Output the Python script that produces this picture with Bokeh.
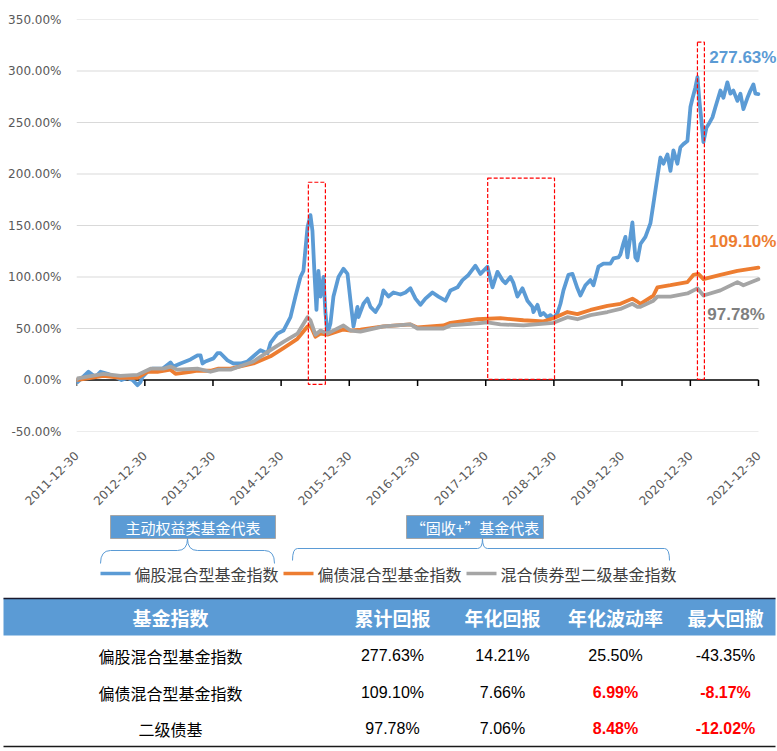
import math
import numpy as np
import pandas as pd
from bokeh.plotting import figure
from bokeh.layouts import column
from bokeh.models import (Range1d, FixedTicker, DatetimeTickFormatter,
                          PrintfTickFormatter, Label)
from bokeh.embed import file_html
from bokeh.resources import INLINE
from bokeh.core.properties import value

# ---------------- data ----------------
START = "2011-12-30"
tick_labels = ["2011-12-30", "2012-12-30", "2013-12-30", "2014-12-30", "2015-12-30",
               "2016-12-30", "2017-12-30", "2018-12-30", "2019-12-30", "2020-12-30",
               "2021-12-30"]
y_ticks = [-50, 0, 50, 100, 150, 200, 250, 300, 350]

# (years since 2011-12-30, cumulative return %)
blue_pts = [(0, 0), (0.015, -2), (0.176, 8), (0.279, 3), (0.352, 8), (0.455, 6), (0.572, 3),
            (0.660, 0), (0.748, 2), (0.821, 0), (0.894, -5), (0.938, -2), (0.968, 3), (1.041, 8),
            (1.114, 11), (1.261, 11), (1.378, 17), (1.422, 13), (1.525, 16), (1.672, 20),
            (1.774, 24), (1.818, 24), (1.848, 16), (1.891, 18), (2.009, 21), (2.067, 26),
            (2.111, 26), (2.214, 19), (2.302, 16), (2.405, 16), (2.507, 18), (2.595, 23),
            (2.698, 29), (2.801, 26), (2.845, 36), (2.947, 45), (3.035, 48), (3.138, 61),
            (3.211, 81), (3.284, 100), (3.328, 106), (3.387, 148), (3.431, 160), (3.460, 145),
            (3.490, 103), (3.519, 68), (3.548, 106), (3.578, 81), (3.622, 100), (3.651, 65),
            (3.680, 45), (3.724, 55), (3.768, 81), (3.842, 100), (3.915, 108), (3.974, 103),
            (4.018, 77), (4.062, 52), (4.120, 71), (4.135, 61), (4.208, 74), (4.267, 79),
            (4.311, 71), (4.384, 66), (4.457, 74), (4.501, 87), (4.575, 81), (4.648, 85),
            (4.751, 83), (4.824, 85), (4.897, 89), (4.971, 79), (5.044, 73), (5.117, 79),
            (5.220, 85), (5.308, 81), (5.411, 77), (5.484, 87), (5.587, 90), (5.660, 97),
            (5.748, 102), (5.850, 111), (5.924, 103), (6.026, 110), (6.100, 90), (6.173, 105),
            (6.246, 97), (6.290, 94), (6.364, 100), (6.408, 94), (6.466, 81), (6.540, 89),
            (6.613, 77), (6.686, 71), (6.701, 66), (6.760, 73), (6.804, 63), (6.848, 65),
            (6.906, 61), (6.950, 63), (6.994, 60), (7.053, 65), (7.097, 74), (7.141, 87),
            (7.214, 102), (7.273, 103), (7.346, 89), (7.390, 82), (7.463, 92), (7.537, 97),
            (7.581, 92), (7.654, 110), (7.727, 113), (7.830, 113), (7.874, 118), (7.947, 119),
            (7.977, 122), (8.021, 133), (8.050, 139), (8.079, 119), (8.152, 153), (8.196, 119),
            (8.226, 116), (8.270, 132), (8.343, 139), (8.416, 152), (8.460, 171), (8.519, 197),
            (8.563, 216), (8.607, 210), (8.666, 219), (8.710, 203), (8.754, 223), (8.812, 210),
            (8.856, 226), (8.900, 229), (8.959, 232), (9.003, 265), (9.032, 273), (9.076, 284),
            (9.106, 294), (9.135, 271), (9.164, 252), (9.194, 231), (9.238, 245), (9.267, 248),
            (9.326, 255), (9.370, 265), (9.443, 281), (9.487, 274), (9.545, 289), (9.589, 278),
            (9.633, 281), (9.692, 271), (9.736, 278), (9.780, 263), (9.839, 274), (9.883, 281),
            (9.927, 287), (9.956, 278), (10.0, 277.63)]

orange_pts = [(0, 0), (0.396, 4), (0.645, 2), (0.894, 2), (1.041, 8), (1.188, 8), (1.378, 10),
              (1.452, 6), (1.672, 8), (1.774, 9), (1.965, 9), (2.082, 11), (2.258, 11),
              (2.595, 16), (2.845, 23), (3.035, 31), (3.240, 40), (3.387, 52), (3.431, 53),
              (3.504, 42), (3.578, 45), (3.680, 44), (3.915, 49), (4.018, 48), (4.164, 49),
              (4.501, 52), (4.897, 54), (5.000, 51), (5.381, 53), (5.484, 55.5), (5.880, 59),
              (6.217, 60), (6.554, 58), (6.848, 57), (6.994, 60), (7.199, 66), (7.346, 64),
              (7.537, 68), (7.786, 72), (7.977, 74), (8.152, 79), (8.226, 76), (8.270, 74),
              (8.460, 82), (8.519, 90), (8.710, 92), (8.959, 95), (9.047, 102), (9.120, 103),
              (9.194, 98), (9.443, 102), (9.692, 106), (10.0, 109.10)]

gray_pts = [(0, 0), (0.015, 1.6), (0.396, 6), (0.645, 4), (0.894, 5), (1.085, 11), (1.276, 11),
            (1.378, 13), (1.481, 10), (1.774, 11), (1.965, 8), (2.082, 10), (2.258, 10),
            (2.595, 18), (2.845, 29), (3.035, 37), (3.240, 45), (3.387, 61), (3.431, 58),
            (3.504, 44), (3.578, 48), (3.680, 45), (3.915, 53), (4.018, 48), (4.164, 47),
            (4.501, 52), (4.897, 54), (5.000, 50), (5.381, 50), (5.484, 53), (5.880, 55),
            (6.026, 56), (6.217, 54), (6.554, 53), (6.994, 55.5), (7.199, 61), (7.346, 59),
            (7.537, 63), (7.786, 66), (7.977, 69), (8.152, 74), (8.226, 71), (8.270, 71),
            (8.460, 77), (8.519, 81), (8.710, 81), (8.959, 84), (9.106, 89), (9.194, 82),
            (9.443, 87), (9.692, 95), (9.780, 92), (10.0, 97.78)]

series_names = ["偏股混合型基金指数", "偏债混合型基金指数", "混合债券型二级基金指数"]
series_colors = ["#5b9bd5", "#ed7d31", "#a5a5a5"]
end_labels = ["277.63%", "109.10%", "97.78%"]
end_label_colors = ["#5b9bd5", "#ed7d31", "#7f7f7f"]
end_label_pos = [(9.28, 313.5), (9.28, 134), (9.25, 64)]  # (years, %)

# highlighted periods: (start yr, end yr, bottom %, top %)
highlight_boxes = [(3.40, 3.65, -4.2, 192), (6.03, 7.01, 0.7, 196), (9.106, 9.208, 0.7, 328)]

group_labels = ["主动权益类基金代表", "“固收+”基金代表"]

table_header = ["基金指数", "累计回报", "年化回报", "年化波动率", "最大回撤"]
table_names = ["偏股混合型基金指数", "偏债混合型基金指数", "二级债基"]
table_cum = ["277.63%", "109.10%", "97.78%"]
table_ann = ["14.21%", "7.66%", "7.06%"]
table_vol = ["25.50%", "6.99%", "8.48%"]
table_mdd = ["-43.35%", "-8.17%", "-12.02%"]
table_red = [[False, False], [True, True], [True, True]]  # (vol, mdd) in red

# ---------------- helpers ----------------
T0 = pd.Timestamp(START)
def ms(t_years):
    return (T0 + pd.Timedelta(days=float(t_years) * 365.25)).value / 1e6

tick_ms = [pd.Timestamp(s).value / 1e6 for s in tick_labels]

W = 777
H1 = 513
H2 = 237
PLOT_L, PLOT_R = 76, 758          # pixel extent of the dated axis
x_start = tick_ms[0]
x_span = tick_ms[-1] - tick_ms[0]
x_end = x_start + x_span * (W - PLOT_L) / (PLOT_R - PLOT_L)   # frame runs to the canvas edge

# ---------------- chart ----------------
p = figure(width=W, height=H1, x_axis_type="datetime", output_backend="svg",
           toolbar_location=None, x_range=Range1d(x_start, x_end),
           y_range=Range1d(-50, 350), min_border_left=PLOT_L, min_border_right=0,
           min_border_top=19, min_border_bottom=82)
p.frame_align = False
p.outline_line_color = None
p.background_fill_color = "white"
p.border_fill_color = "white"
p.xgrid.grid_line_color = None
p.ygrid.grid_line_color = None

p.yaxis.ticker = FixedTicker(ticks=y_ticks)
p.yaxis.formatter = PrintfTickFormatter(format="%.2f%%")
p.yaxis.axis_line_color = None
p.yaxis.major_tick_line_color = None
p.yaxis.minor_tick_line_color = None
p.yaxis.major_label_text_font = "DejaVu Sans"
p.yaxis.major_label_text_font_size = "12px"
p.yaxis.major_label_text_color = "#595959"
p.yaxis.major_label_standoff = 9

p.xaxis.ticker = FixedTicker(ticks=tick_ms)
fmt = "%Y-%m-%d"
p.xaxis.formatter = DatetimeTickFormatter(milliseconds=fmt, seconds=fmt, minsec=fmt, minutes=fmt,
                                          hourmin=fmt, hours=fmt, days=fmt, months=fmt, years=fmt)
p.xaxis.axis_line_color = None
p.xaxis.major_tick_line_color = None
p.xaxis.minor_tick_line_color = None
p.xaxis.major_label_orientation = math.pi / 4
p.xaxis.major_label_text_font = "DejaVu Sans"
p.xaxis.major_label_text_font_size = "12px"
p.xaxis.major_label_text_color = "#595959"
p.xaxis.major_label_standoff = 16

# horizontal gridlines limited to the dated span
grid_y = [v for v in y_ticks if v != 0]
p.segment(x0=[tick_ms[0]] * len(grid_y), y0=grid_y, x1=[tick_ms[-1]] * len(grid_y), y1=grid_y,
          line_color="#d9d9d9", line_width=1)

# zero axis line and ticks
p.segment(x0=[tick_ms[0]], y0=[0], x1=[tick_ms[-1]], y1=[0], line_color="black", line_width=1.5)
p.segment(x0=tick_ms, y0=[0] * len(tick_ms), x1=tick_ms, y1=[-5.8] * len(tick_ms),
          line_color="black", line_width=1.5)

for pts, col in zip([blue_pts, orange_pts, gray_pts], series_colors):
    xs = [ms(t) for t, v in pts]
    ys = [v for t, v in pts]
    p.line(xs, ys, line_color=col, line_width=3.8, line_join="round", line_cap="round")

for (a, b, lo, hi) in highlight_boxes:
    p.quad(left=[ms(a)], right=[ms(b)], bottom=[lo], top=[hi], fill_color=None,
           line_color="#ff0000", line_width=1.2, line_dash="4 2")

for txt, col, (tx, ty) in zip(end_labels, end_label_colors, end_label_pos):
    p.add_layout(Label(x=ms(tx), y=ty, text=txt, text_color=col, text_font="Liberation Sans",
                       text_font_style="bold", text_font_size="17px", text_baseline="middle"))

# ---------------- legend + table ----------------
q = figure(width=W, height=H2, output_backend="svg", toolbar_location=None,
           x_range=Range1d(0, W), y_range=Range1d(H2, 0), min_border=0,
           x_axis_location=None, y_axis_location=None)
q.frame_align = False
q.outline_line_color = None
q.xgrid.visible = False
q.ygrid.visible = False
q.background_fill_color = "white"
q.border_fill_color = "white"

CJK = value("Noto Sans CJK SC")

# group boxes
boxes = [(110, 275), (406, 543)]
BOX_T, BOX_B = 2, 25
for (l, r), txt in zip(boxes, group_labels):
    q.quad(left=[l], right=[r], top=[BOX_T], bottom=[BOX_B], fill_color="#5b9bd5",
           line_color="#a6a6a6", line_width=1)
    q.text(x=[(l + r) / 2], y=[(BOX_T + BOX_B) / 2 + 0.5], text=[txt], text_color="white",
           text_font=CJK, text_font_size="15px", text_align="center", text_baseline="middle")

# braces
def brace(x0, x1, xc, yt, ym, ye, r):
    q.quadratic(x0=[x0, xc - r, xc, x1 - r], y0=[ye, ym, yt, ym],
                x1=[x0 + r, xc, xc + r, x1], y1=[ym, yt, ym, ye],
                cx=[x0, xc, xc, x1], cy=[ym, ym, ym, ym],
                line_color="#5b9bd5", line_width=1)
    q.segment(x0=[x0 + r, xc + r], y0=[ym, ym], x1=[xc - r, x1 - r], y1=[ym, ym],
              line_color="#5b9bd5", line_width=1)

brace(100, 274, 187, BOX_B, 37, 50, 10)
brace(292, 669, 482, BOX_B, 35, 47, 5)

# legend items
LEG_Y = 60
leg_x = [100, 283, 466]
for x0, name, col in zip(leg_x, series_names, series_colors):
    q.segment(x0=[x0], y0=[LEG_Y], x1=[x0 + 30], y1=[LEG_Y], line_color=col, line_width=3.5)
    q.text(x=[x0 + 34], y=[LEG_Y], text=[name], text_color="#404040", text_font=CJK,
           text_font_size="16px", text_baseline="middle")

# table
col_x = [170, 392, 502, 615, 725]
HEAD_T, HEAD_B = 85, 122
row_y = [142, 179, 215]
BOTTOM = 233
TL, TR = 3, 775
q.quad(left=[TL], right=[TR], top=[HEAD_T], bottom=[HEAD_B], fill_color="#5b9bd5", line_color=None)
q.segment(x0=[TL], y0=[HEAD_T], x1=[TR], y1=[HEAD_T], line_color="#1a1a2e", line_width=1.5)
q.segment(x0=[TL], y0=[BOTTOM], x1=[TR], y1=[BOTTOM], line_color="#1a1a1a", line_width=1.5)
q.text(x=col_x, y=[(HEAD_T + HEAD_B) / 2] * 5, text=table_header, text_color="white",
       text_font=CJK, text_font_style="bold", text_font_size="19px",
       text_align="center", text_baseline="middle")
q.text(x=[col_x[0]] * 3, y=row_y, text=table_names, text_color="black", text_font=CJK,
       text_font_size="16px", text_align="center", text_baseline="middle")
for ci, colvals in enumerate([table_cum, table_ann, table_vol, table_mdd]):
    for ri, txt in enumerate(colvals):
        red = ci >= 2 and table_red[ri][ci - 2]
        q.text(x=[col_x[ci + 1]], y=[row_y[ri]], text=[txt],
               text_color="#ff0000" if red else "black",
               text_font=value("Liberation Sans"), text_font_style="bold" if red else "normal",
               text_font_size="16px", text_align="center", text_baseline="middle")

layout = column(p, q, spacing=0)
open("out.html", "w").write(file_html(layout, INLINE))
